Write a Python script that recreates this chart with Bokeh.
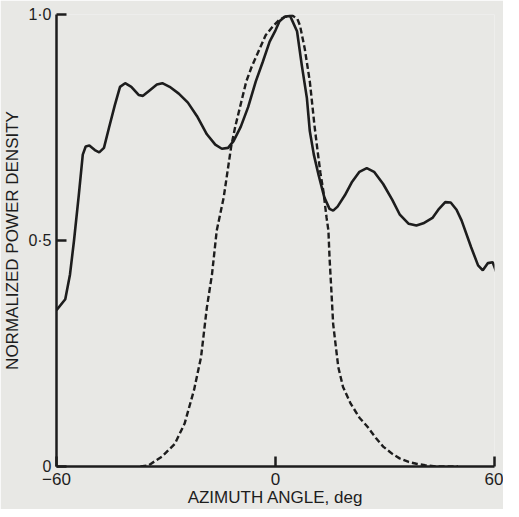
from bokeh.plotting import figure
from bokeh.models import Range1d, FixedTicker
from bokeh.embed import file_html
from bokeh.resources import INLINE

# Solid curve (measured pattern)
solid_angle = [-60, -57.6, -56.3, -55.2, -53.9, -52.8, -52.0, -51.0, -49.5, -48.3, -47.0,
               -45.6, -44.0, -42.6, -41.2, -39.5, -37.5, -36.3, -34.5, -32.5, -31.0,
               -29.0, -26.5, -24.0, -21.5, -18.8, -16.5, -14.7, -13.0, -11.5, -9.5,
               -7.5, -5.4, -3.5, -1.6, 0.0, 1.1, 2.5, 4.0, 5.9, 7.2, 8.6, 9.4, 10.5,
               11.8, 13.4, 14.8, 15.8, 17.0, 19.0, 21.0, 23.0, 25.0, 27.0, 29.5, 32.0,
               34.0, 36.5, 38.6, 40.5, 43.0, 44.8, 46.5, 48.0, 49.6, 51.0, 53.6, 55.5,
               56.8, 58.2, 59.5, 60.5, 61.4]
solid_power = [0.346, 0.370, 0.425, 0.500, 0.600, 0.690, 0.708, 0.710, 0.700, 0.695, 0.705,
               0.750, 0.800, 0.840, 0.848, 0.840, 0.822, 0.820, 0.832, 0.845, 0.848,
               0.840, 0.825, 0.805, 0.775, 0.735, 0.712, 0.703, 0.705, 0.720, 0.752,
               0.795, 0.852, 0.895, 0.940, 0.965, 0.985, 0.995, 0.997, 0.963, 0.888,
               0.815, 0.742, 0.690, 0.645, 0.595, 0.570, 0.566, 0.575, 0.600, 0.630,
               0.652, 0.660, 0.652, 0.625, 0.590, 0.558, 0.537, 0.533, 0.538, 0.550,
               0.570, 0.585, 0.584, 0.568, 0.544, 0.485, 0.445, 0.434, 0.450, 0.452,
               0.430, 0.418]

# Dashed curve (theoretical pattern)
dashed_angle = [-37.0, -34.9, -31.1, -27.6, -24.9, -22.3, -20.4, -18.8, -17.4, -16.1,
                -14.2, -12.1, -11.0, -8.0, -6.5, -4.3, -2.7, -0.8, 1.0, 2.7, 4.6, 6.0,
                6.7, 8.0, 9.4, 10.7, 11.5, 12.3, 13.1, 14.0, 14.5, 14.8, 15.3, 15.8,
                17.2, 18.5, 20.6, 23.0, 25.2, 27.5, 29.5, 32.0, 34.0, 36.5, 38.6, 41.0,
                44.0, 50.0]
dashed_power = [0.0, 0.002, 0.022, 0.050, 0.095, 0.170, 0.242, 0.352, 0.425, 0.522,
                0.595, 0.710, 0.753, 0.852, 0.885, 0.925, 0.954, 0.973, 0.988, 0.995,
                0.998, 0.990, 0.976, 0.925, 0.852, 0.753, 0.700, 0.650, 0.610, 0.550,
                0.522, 0.463, 0.390, 0.315, 0.220, 0.176, 0.139, 0.108, 0.088, 0.063,
                0.044, 0.028, 0.018, 0.010, 0.006, 0.003, 0.0, 0.0]

x_ticks = [-60, 0, 60]
x_tick_labels = ["\u221260", "0", "60"]
y_ticks = [0, 0.5, 1]
y_tick_labels = ["0", "0\u00b75", "1\u00b70"]

INK = "#1d1d1d"
PAPER = "#e8e8e5"
FONT = "Liberation Sans"

p = figure(width=503, height=509, output_backend="svg", toolbar_location=None,
           x_range=Range1d(-60, 60), y_range=Range1d(0, 1.0),
           min_border_left=54, min_border_right=9, min_border_top=14, min_border_bottom=38,
           background_fill_color=PAPER, border_fill_color=PAPER, outline_line_color=None,
           x_axis_label="AZIMUTH ANGLE, deg", y_axis_label="NORMALIZED POWER DENSITY")
p.grid.visible = False

p.line(solid_angle, solid_power, line_color=INK, line_width=2.6)
p.line(dashed_angle, dashed_power, line_color=INK, line_width=2.4, line_dash="6 3")

p.xaxis.ticker = FixedTicker(ticks=x_ticks)
p.xaxis.major_label_overrides = dict(zip(x_ticks, x_tick_labels))
p.yaxis.ticker = FixedTicker(ticks=y_ticks)
p.yaxis.major_label_overrides = dict(zip(y_ticks, y_tick_labels))

for ax in (p.xaxis, p.yaxis):
    ax.axis_line_color = INK
    ax.axis_line_width = 2.5
    ax.major_tick_line_color = INK
    ax.major_tick_line_width = 2.5
    ax.major_tick_in = 10
    ax.major_tick_out = 0
    ax.minor_tick_line_color = None
    ax.major_label_text_font = FONT
    ax.major_label_text_color = INK
    ax.axis_label_text_font = FONT
    ax.axis_label_text_color = INK
    ax.axis_label_text_font_style = "normal"
    ax.axis_label_text_font_size = "17px"

p.xaxis.major_label_text_font_size = "17px"
p.yaxis.major_label_text_font_size = "16px"
p.xaxis.major_label_standoff = 6
p.yaxis.major_label_standoff = 5
p.xaxis.axis_label_standoff = 0
p.yaxis.axis_label_standoff = 3

open("out.html", "w").write(file_html(p, INLINE))
